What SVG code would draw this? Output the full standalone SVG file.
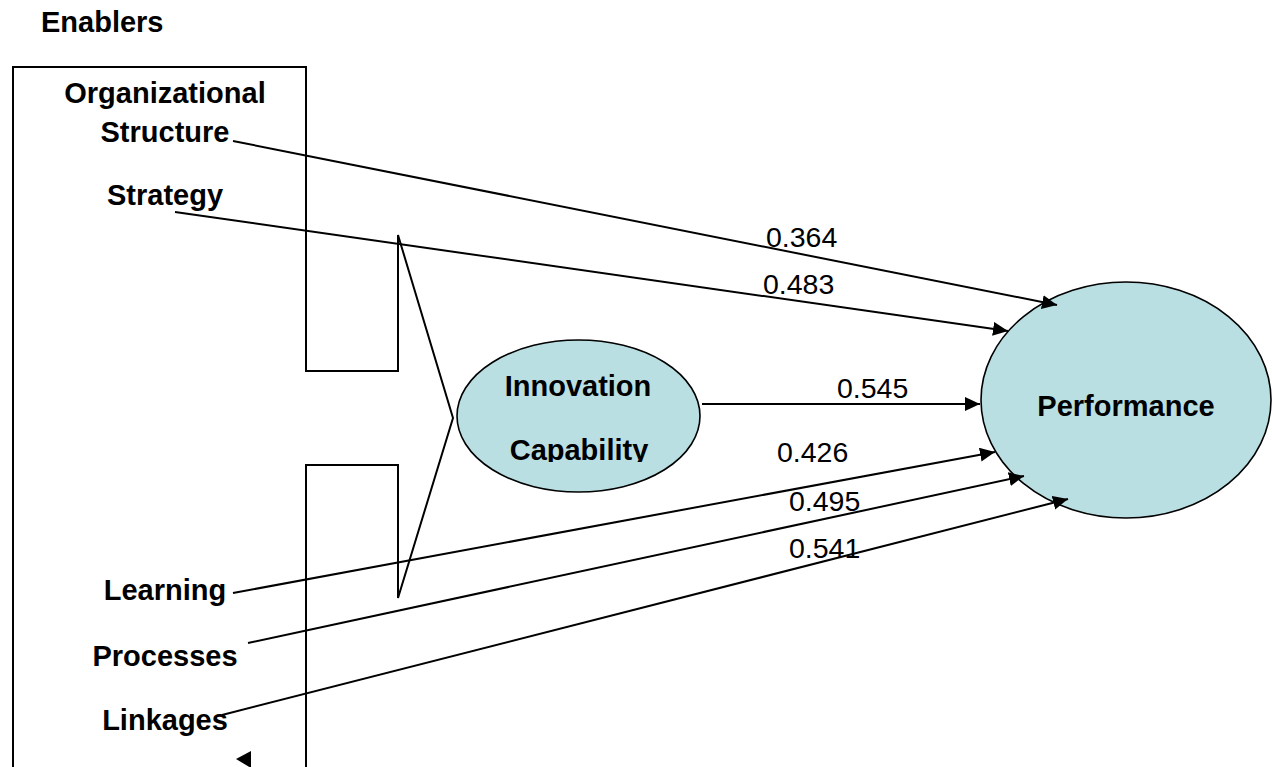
<svg xmlns="http://www.w3.org/2000/svg" width="1272" height="767" viewBox="0 0 1272 767">
<style>
.lbl{font-family:"Liberation Sans",Arial,sans-serif;font-weight:bold;font-size:29px;fill:#000}
.num{font-family:"Liberation Sans",Arial,sans-serif;font-size:28.5px;fill:#000}
.ell{fill:#b9dfe2;stroke:#000;stroke-width:1.6}
.ln{stroke:#000;stroke-width:2;fill:none}
</style>
<defs>
<marker id="ah" markerUnits="userSpaceOnUse" markerWidth="16" markerHeight="15" refX="15" refY="7" orient="auto">
<path d="M0,0 L15,7 L0,14 z" fill="#000"/>
</marker>
<clipPath id="icClip"><rect x="440" y="330" width="270" height="132"/></clipPath>
</defs>
<rect width="1272" height="767" fill="#fff"/>
<text class="lbl" x="41" y="32">Enablers</text>
<g id="enablers">
<path class="ln" d="M13,767 V67 H306 V371 H398 V235 L453,418 L398,598 V465 H306 V767"/>
<text class="lbl" x="165" y="103" text-anchor="middle">Organizational</text>
<text class="lbl" x="165" y="142" text-anchor="middle">Structure</text>
<text class="lbl" x="165" y="205" text-anchor="middle">Strategy</text>
<text class="lbl" x="165" y="600" text-anchor="middle">Learning</text>
<text class="lbl" x="165" y="666" text-anchor="middle">Processes</text>
<text class="lbl" x="165" y="730" text-anchor="middle">Linkages</text>
<polygon points="236,759 251,751 251,768" fill="#000"/>
</g>
<g id="innovation">
<ellipse class="ell" cx="578.5" cy="416" rx="121.5" ry="76"/>
<text class="lbl" x="578" y="396" text-anchor="middle">Innovation</text>
<text class="lbl" x="579" y="460" text-anchor="middle" clip-path="url(#icClip)">Capability</text>
</g>
<g id="performance">
<ellipse class="ell" cx="1126" cy="400" rx="145" ry="118"/>
<text class="lbl" x="1126" y="416" text-anchor="middle">Performance</text>
</g>
<g id="connectors">
<line class="ln" x1="233" y1="141" x2="1057" y2="305" marker-end="url(#ah)"/>
<line class="ln" x1="175" y1="212" x2="1008" y2="331" marker-end="url(#ah)"/>
<line class="ln" x1="702" y1="404" x2="980" y2="404" marker-end="url(#ah)"/>
<line class="ln" x1="233" y1="593" x2="995" y2="452" marker-end="url(#ah)"/>
<line class="ln" x1="248" y1="643" x2="1024" y2="476" marker-end="url(#ah)"/>
<line class="ln" x1="222" y1="715" x2="1068" y2="499" marker-end="url(#ah)"/>
<text class="num" x="766" y="247">0.364</text>
<text class="num" x="763" y="294">0.483</text>
<text class="num" x="837" y="398">0.545</text>
<text class="num" x="777" y="462">0.426</text>
<text class="num" x="789" y="511">0.495</text>
<text class="num" x="789" y="558">0.541</text>
</g>
</svg>
